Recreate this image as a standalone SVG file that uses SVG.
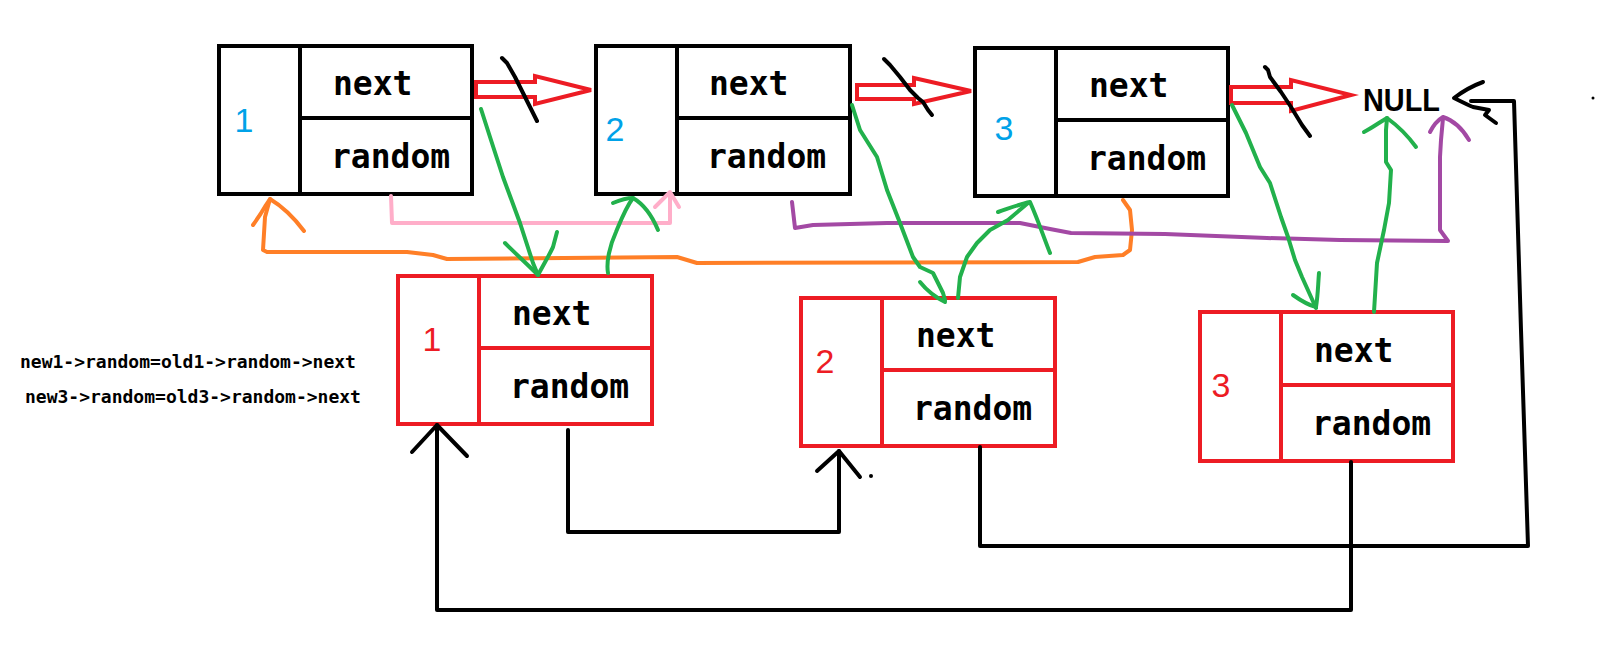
<svg xmlns="http://www.w3.org/2000/svg" width="1598" height="654" viewBox="0 0 1598 654">
<style>
.ob{fill:none;stroke:#000;stroke-width:4}
.nb{fill:none;stroke:#ED1C24;stroke-width:4}
.lbl{font-family:"DejaVu Sans Mono","Liberation Mono",monospace;font-weight:bold;font-size:33px;fill:#000}
.num{font-family:"Liberation Sans",Arial,sans-serif;font-size:34px;text-anchor:middle}
.blue{fill:#00A2E8}
.red{fill:#ED1C24}
.ln{fill:none;stroke-width:4;stroke-linecap:round;stroke-linejoin:round}
.k{stroke:#000}
.g{stroke:#22B14C}
.o{stroke:#FF7F27}
.p{stroke:#A349A4}
.pk{stroke:#FFAEC9}
.ra{fill:none;stroke:#ED1C24;stroke-width:4;stroke-linejoin:miter}
.code{font-family:"DejaVu Sans Mono","Liberation Mono",monospace;font-weight:bold;font-size:18px;fill:#000}
</style>
<rect width="1598" height="654" fill="#fff"/>

<g id="old1">
<rect class="ob" x="219" y="46" width="253" height="148"/>
<line class="ob" x1="300" y1="46" x2="300" y2="194"/>
<line class="ob" x1="300" y1="118" x2="472" y2="118"/>
<text class="num blue" x="244" y="132">1</text>
<text class="lbl" x="333" y="95">next</text>
<text class="lbl" x="331" y="168">random</text>
</g>
<g id="old2">
<rect class="ob" x="596" y="46" width="254" height="148"/>
<line class="ob" x1="677" y1="46" x2="677" y2="194"/>
<line class="ob" x1="677" y1="118" x2="850" y2="118"/>
<text class="num blue" x="615" y="141">2</text>
<text class="lbl" x="709" y="95">next</text>
<text class="lbl" x="707" y="168">random</text>
</g>
<g id="old3">
<rect class="ob" x="975" y="48" width="253" height="148"/>
<line class="ob" x1="1056" y1="48" x2="1056" y2="196"/>
<line class="ob" x1="1056" y1="120" x2="1228" y2="120"/>
<text class="num blue" x="1004" y="140">3</text>
<text class="lbl" x="1089" y="97">next</text>
<text class="lbl" x="1087" y="170">random</text>
</g>
<g id="null">
<text x="1363" y="111" font-family="Liberation Sans,Arial,sans-serif" font-weight="bold" font-size="31" textLength="77" lengthAdjust="spacingAndGlyphs" fill="#000">NULL</text>
</g>

<g id="new1">
<rect class="nb" x="398" y="276" width="254" height="148"/>
<line class="nb" x1="479" y1="276" x2="479" y2="424"/>
<line class="nb" x1="479" y1="348" x2="652" y2="348"/>
<text class="num red" x="432" y="351">1</text>
<text class="lbl" x="512" y="325">next</text>
<text class="lbl" x="510" y="398">random</text>
</g>
<g id="new2">
<rect class="nb" x="801" y="298" width="254" height="148"/>
<line class="nb" x1="882" y1="298" x2="882" y2="446"/>
<line class="nb" x1="882" y1="370" x2="1055" y2="370"/>
<text class="num red" x="825" y="373">2</text>
<text class="lbl" x="916" y="347">next</text>
<text class="lbl" x="913" y="420">random</text>
</g>
<g id="new3">
<rect class="nb" x="1200" y="312" width="253" height="149"/>
<line class="nb" x1="1281" y1="312" x2="1281" y2="461"/>
<line class="nb" x1="1281" y1="385" x2="1453" y2="385"/>
<text class="num red" x="1221" y="397">3</text>
<text class="lbl" x="1314" y="362">next</text>
<text class="lbl" x="1312" y="435">random</text>
</g>

<g id="notes">
<text class="code" x="20" y="368">new1-&gt;random=old1-&gt;random-&gt;next</text>
<text class="code" x="25" y="403">new3-&gt;random=old3-&gt;random-&gt;next</text>
</g>

<g id="connectors">
<polygon class="ra" points="476,82 535,82 535,76 591,90 535,104 535,97 476,97"/>
<polygon class="ra" points="857,85 914,85 914,78 971,91 914,104 914,99 857,99"/>
<polygon class="ra" points="1231,87 1291,87 1291,80 1351,95 1291,111 1291,103 1231,103"/>
<path class="ln k" d="M502,58 L507,63 L515,77 L525,97 L533,113 L537,121"/>
<path class="ln k" d="M884,59 L890,65 L900,77 L910,90 L918,98 L923,102 L928,110 L932,115"/>
<path class="ln k" d="M1265,67 L1268,70 L1270,77 L1281,92 L1291,107 L1302,125 L1310,136"/>

<path class="ln pk" d="M391,196 L392,223 L670,223 L670,193"/>
<path class="ln pk" d="M655,207 L670,192 L679,207"/>

<path class="ln o" d="M1123,200 L1130,210 L1132,230 L1130,250 L1123,255 L1095,257 L1078,262 L697,263 L687,260 L677,257 L447,259 L433,255 L407,252 L267,252 L263,250 L265,217 L270,199"/>
<path class="ln o" d="M253,225 C258,218 262,212 266,205 L270,199 C280,205 292,215 304,231"/>

<path class="ln p" d="M792,202 L795,228 L813,225 L887,223 L953,223 L1020,223 L1050,229 L1071,233 L1165,234 L1267,238 L1340,240 L1448,241 L1440,230 L1440,157 L1441,140 L1443,118"/>
<path class="ln p" d="M1430,132 C1434,124 1438,120 1443,117 C1452,120 1462,128 1469,140"/>

<path class="ln g" d="M481,109 L490,137 L503,177 L520,223 L533,263 L538,275"/>
<path class="ln g" d="M505,243 C515,253 528,265 538,275 C545,262 552,250 553,247 L557,232"/>
<path class="ln g" d="M608,273 C606,262 610,245 616,232 C621,220 626,207 633,198"/>
<path class="ln g" d="M613,203 C620,200 627,198 633,198 C645,205 653,218 658,230"/>
<path class="ln g" d="M852,105 L860,130 L877,157 L887,190 L900,223 L913,257 L920,267 L933,273 L943,293 L945,300"/>
<path class="ln g" d="M920,282 C928,292 937,298 945,302"/>
<path class="ln g" d="M958,298 L960,277 L967,257 L977,243 L990,230 L1008,220 L1028,203"/>
<path class="ln g" d="M998,212 C1010,208 1020,204 1030,202 C1038,220 1044,238 1050,253"/>
<path class="ln g" d="M1232,105 L1246,133 L1260,167 L1270,183 L1281,217 L1288,237 L1295,260 L1302,277 L1316,308"/>
<path class="ln g" d="M1293,295 C1300,300 1308,305 1316,307 C1318,295 1318,285 1319,273"/>
<path class="ln g" d="M1374,312 L1377,263 L1384,230 L1389,203 L1391,170 L1386,162 L1386,130 L1387,118"/>
<path class="ln g" d="M1364,132 C1372,128 1380,122 1387,118 C1398,126 1408,136 1416,147"/>

<path class="ln k" d="M568,430 L568,532 L839,532 L839,451"/>
<path class="ln k" d="M817,471 L839,451 L860,477"/>
<circle cx="871" cy="476" r="2" fill="#000"/>
<path class="ln k" d="M1351,462 L1351,610 L437,610 L437,425"/>
<path class="ln k" d="M412,452 L437,425 L467,456"/>
<path class="ln k" d="M980,447 L980,546 L1528,546 L1521,330 L1514,101 L1471,101"/>
<path class="ln k" d="M1483,82 C1472,86 1462,92 1454,98 C1462,102 1468,105 1473,107 L1489,110 L1485,115 L1496,123"/>
<circle cx="1593" cy="98" r="1.5" fill="#000"/>
</g>
</svg>
